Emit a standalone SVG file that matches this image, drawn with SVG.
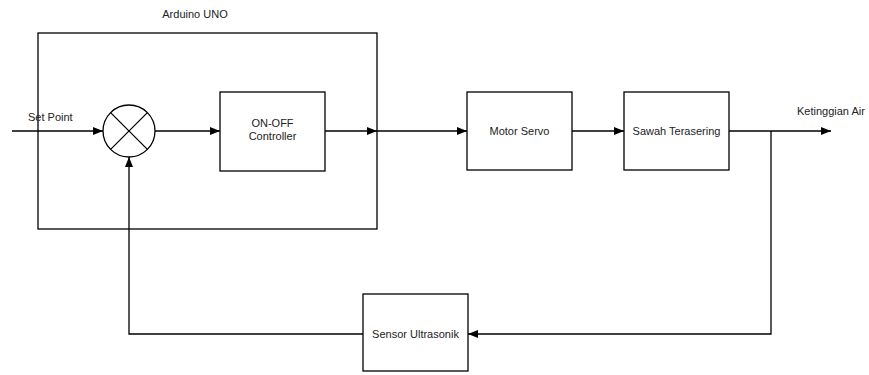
<svg xmlns="http://www.w3.org/2000/svg" width="869" height="375" viewBox="0 0 869 375">
<style>
.b{fill:#fff;stroke:#000;stroke-width:1.3}
.c{fill:none;stroke:#000;stroke-width:1.3}
text{font-family:"Liberation Sans",Arial,sans-serif;font-size:11px;fill:#222}
.m{text-anchor:middle}
</style>
<defs>
<marker id="a" viewBox="0 0 10 8" refX="10" refY="4" markerWidth="10" markerHeight="8" markerUnits="userSpaceOnUse" orient="auto">
<path d="M0,0 L10,4 L0,8 Z" fill="#000"/>
</marker>
</defs>
<rect width="869" height="375" fill="#fff"/>
<g id="arduino">
<rect class="c" x="38" y="33" width="339" height="196"/>
<text x="195" y="18" class="m">Arduino UNO</text>
</g>
<g id="connectors">
<path class="c" d="M12,131 H103" marker-end="url(#a)"/>
<path class="c" d="M155,131 H220" marker-end="url(#a)"/>
<path class="c" d="M325,131 H377" marker-end="url(#a)"/>
<path class="c" d="M377,131 H467" marker-end="url(#a)"/>
<path class="c" d="M572,131 H624" marker-end="url(#a)"/>
<path class="c" d="M729,131 H831" marker-end="url(#a)"/>
<path class="c" d="M771,131 V334 H468" marker-end="url(#a)"/>
<path class="c" d="M363,334 H129 V157" marker-end="url(#a)"/>
</g>
<g id="sum">
<circle class="b" cx="129" cy="131" r="26"/>
<path class="c" d="M110.6,112.6 L147.4,149.4 M147.4,112.6 L110.6,149.4"/>
</g>
<g id="controller">
<rect class="b" x="220" y="92" width="105" height="79"/>
<text x="272.5" y="127" class="m">ON-OFF</text>
<text x="272.5" y="140" class="m">Controller</text>
</g>
<g id="servo">
<rect class="b" x="467" y="92" width="105" height="78"/>
<text x="519.5" y="135" class="m">Motor Servo</text>
</g>
<g id="sawah">
<rect class="b" x="624" y="92" width="105" height="78"/>
<text x="676.5" y="135" class="m">Sawah Terasering</text>
</g>
<g id="sensor">
<rect class="b" x="363" y="294" width="105" height="77"/>
<text x="415.5" y="338" class="m">Sensor Ultrasonik</text>
</g>
<text x="28" y="121">Set Point</text>
<text x="797" y="115">Ketinggian Air</text>
</svg>
